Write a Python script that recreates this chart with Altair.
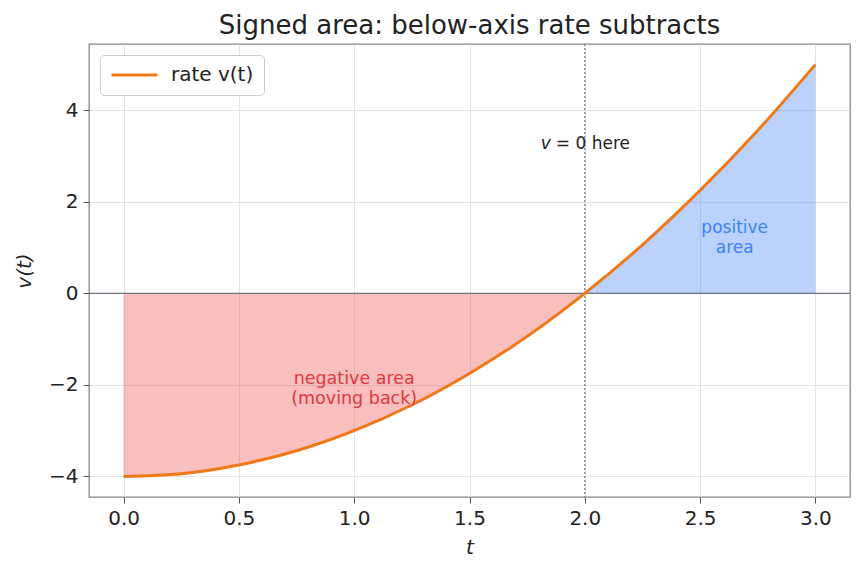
import altair as alt
import pandas as pd

# values
t_vals = [0.0, 0.25, 0.5, 0.75, 1.0, 1.25, 1.5, 1.75, 2.0, 2.25, 2.5, 2.75, 3.0]
v_vals = [-4.0, -3.94, -3.75, -3.44, -3.0, -2.44, -1.75, -0.94, 0.0, 1.06, 2.25, 3.56, 5.0]
x_ticks = [0.0, 0.5, 1.0, 1.5, 2.0, 2.5, 3.0]
y_ticks = [-4, -2, 0, 2, 4]
root_t = 2.0

FONT = "DejaVu Sans"
ORANGE = "#f07818"
RED = "#ef4444"
BLUE = "#3b82f6"

df = pd.DataFrame({"t": t_vals, "v": v_vals, "series": "rate v(t)"})
neg = df[df.t <= root_t]
pos = df[df.t >= root_t]

xs = alt.Scale(domain=[-0.15, 3.15], nice=False, zero=False)
ys = alt.Scale(domain=[-4.45, 5.45], nice=False, zero=False)

X = alt.X("t:Q", scale=xs, axis=alt.Axis(values=x_ticks, format=".1f", title="t"))
Y = alt.Y("v:Q", scale=ys, axis=alt.Axis(values=y_ticks, format="d", title="v(t)"))

area_neg = alt.Chart(neg).mark_area(color=RED, opacity=0.35, interpolate="monotone").encode(
    x=X, y=Y, y2=alt.datum(0)
)
area_pos = alt.Chart(pos).mark_area(color=BLUE, opacity=0.35, interpolate="monotone").encode(
    x=X, y=Y, y2=alt.datum(0)
)

zero_df = pd.DataFrame({"v": [0]})
zero_line = alt.Chart(zero_df).mark_rule(color="#6b7280", strokeWidth=1.3).encode(y=alt.Y("v:Q", scale=ys))

root_df = pd.DataFrame({"t": [root_t]})
root_line = alt.Chart(root_df).mark_rule(color="#666666", strokeWidth=1, strokeDash=[2, 2]).encode(
    x=alt.X("t:Q", scale=xs)
)

line = alt.Chart(df).mark_line(strokeWidth=3, interpolate="monotone").encode(
    x=X, y=Y,
    color=alt.Color("series:N", scale=alt.Scale(domain=["rate v(t)"], range=[ORANGE]),
                    legend=alt.Legend(title=None, orient="top-left", offset=11, symbolType="stroke",
                                      symbolStrokeWidth=3, symbolSize=2100, labelFontSize=20,
                                      labelFont=FONT, labelColor="#222222", padding=10,
                                      strokeColor="#cccccc", cornerRadius=4, fillColor="white",
                                      labelOffset=12, clipHeight=20)),
)

ann_neg = pd.DataFrame({"t": [1.0], "v": [-1.88], "label": [["negative area", "(moving back)"]]})
ann_pos = pd.DataFrame({"t": [2.65], "v": [1.42], "label": [["positive", "area"]]})
ann_root_v = pd.DataFrame({"t": [root_t], "v": [3.26], "label": ["v"]})
ann_root_rest = pd.DataFrame({"t": [root_t], "v": [3.26], "label": ["= 0 here"]})

txt_neg = alt.Chart(ann_neg).mark_text(color="#e0393e", fontSize=17.5, font=FONT, lineHeight=20,
                                       baseline="middle").encode(
    x=alt.X("t:Q", scale=xs), y=alt.Y("v:Q", scale=ys), text="label")
txt_pos = alt.Chart(ann_pos).mark_text(color=BLUE, fontSize=17, font=FONT, lineHeight=20,
                                       baseline="middle").encode(
    x=alt.X("t:Q", scale=xs), y=alt.Y("v:Q", scale=ys), text="label")
txt_rv = alt.Chart(ann_root_v).mark_text(color="#222222", fontSize=17, font=FONT, fontStyle="italic",
                                         align="left", dx=-44, baseline="middle").encode(
    x=alt.X("t:Q", scale=xs), y=alt.Y("v:Q", scale=ys), text="label")
txt_rr = alt.Chart(ann_root_rest).mark_text(color="#222222", fontSize=17, font=FONT,
                                            align="left", dx=-29, baseline="middle").encode(
    x=alt.X("t:Q", scale=xs), y=alt.Y("v:Q", scale=ys), text="label")

chart = alt.layer(area_neg, area_pos, zero_line, root_line, line, txt_neg, txt_pos, txt_rv, txt_rr).properties(
    width=761, height=453,
    title=alt.TitleParams("Signed area: below-axis rate subtracts", fontSize=26, font=FONT,
                          fontWeight="normal", color="#222222", anchor="middle", offset=5),
    autosize=alt.AutoSizeParams(type="none"),
    padding={"left": 89, "top": 44, "right": 13, "bottom": 76},
).configure_view(stroke="#888888", strokeWidth=1.3).configure_axis(
    labelFont=FONT, labelFontSize=20, labelColor="#222222", titleFont=FONT, titleFontSize=20,
    titleFontWeight="normal", titleFontStyle="italic", titleColor="#222222",
    gridColor="#dddddd", gridWidth=0.8, domain=False, tickColor="#555555", tickSize=6, tickWidth=1,
    labelPadding=5,
).configure_axisX(titlePadding=9).configure_axisY(titlePadding=14)

chart.save("out.html", embed_options={"renderer": "svg", "actions": False})
